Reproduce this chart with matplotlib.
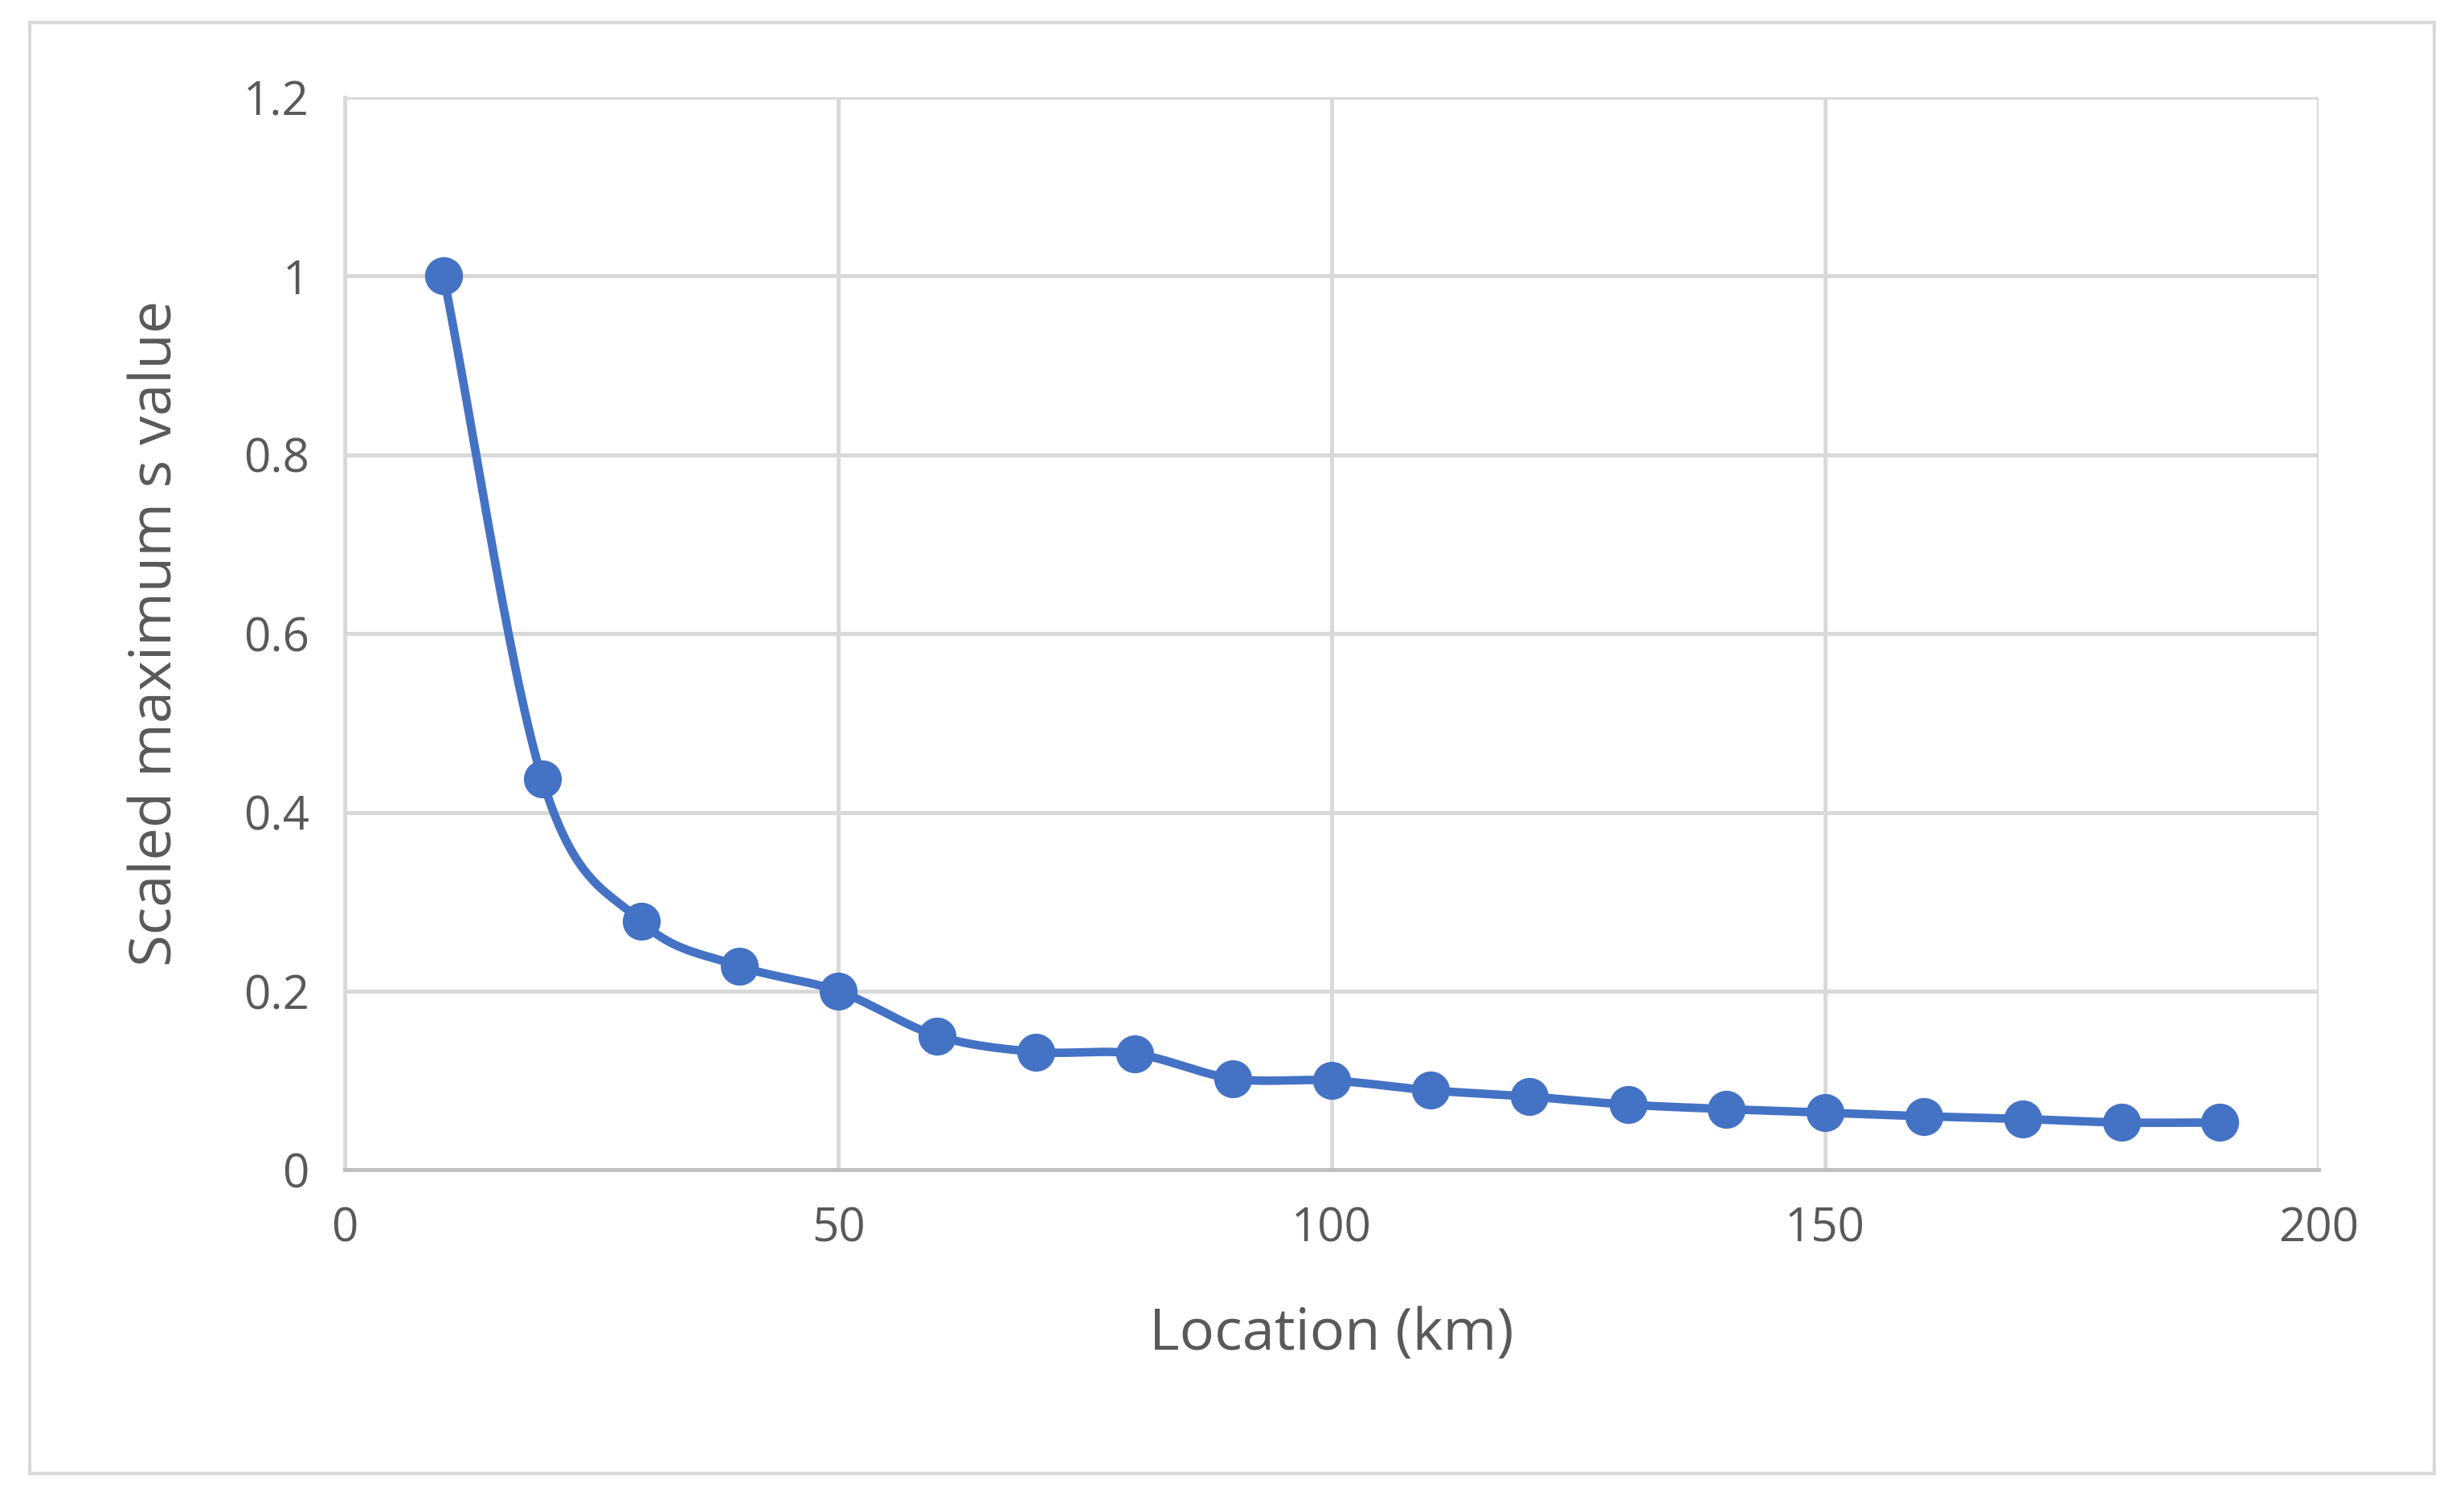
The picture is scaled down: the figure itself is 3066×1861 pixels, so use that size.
import numpy as np
import matplotlib.pyplot as plt
from matplotlib.patches import Rectangle

location_km = [10, 20, 30, 40, 50, 60, 70, 80, 90, 100,
               110, 120, 130, 140, 150, 160, 170, 180, 190]
scaled_s = [1.0, 0.437, 0.278, 0.228, 0.200, 0.150, 0.132, 0.130, 0.102, 0.100,
            0.089, 0.082, 0.073, 0.068, 0.064, 0.060, 0.057, 0.053, 0.053]
x_ticks = [0, 50, 100, 150, 200]
y_ticks = [0, 0.2, 0.4, 0.6, 0.8, 1, 1.2]
y_tick_labels = ['0', '0.2', '0.4', '0.6', '0.8', '1', '1.2']

BLUE = '#4472C4'
GRID = '#D9D9D9'
TEXT = '#595959'


def smooth_curve(xs, ys, n=30):
  # Catmull-Rom style smoothing, similar to a spreadsheet "smoothed line"
  p = np.column_stack([xs, ys]).astype(float)
  p = np.vstack([p[0] * 2 - p[1], p, p[-1] * 2 - p[-2]])
  out = []
  t = np.linspace(0, 1, n)[:, None]
  for i in range(1, len(p) - 2):
    p0, p1, p2, p3 = p[i - 1], p[i], p[i + 1], p[i + 2]
    seg = 0.5 * ((2 * p1) + (-p0 + p2) * t + (2 * p0 - 5 * p1 + 4 * p2 - p3) * t ** 2
                 + (-p0 + 3 * p1 - 3 * p2 + p3) * t ** 3)
    out.append(seg)
  out = np.vstack(out)
  return out[:, 0], out[:, 1]


plt.rcParams['font.family'] = ['Open Sans', 'DejaVu Sans']
fig = plt.figure(figsize=(15.33, 9.305), dpi=200)
fig.patches.append(Rectangle((0.012, 0.015), 0.976, 0.97, transform=fig.transFigure,
                             fill=False, edgecolor=GRID, linewidth=1.5))
ax = fig.add_axes([0.140, 0.218, 0.801, 0.717])

sx, sy = smooth_curve(location_km, scaled_s)
ax.plot(sx, sy, color=BLUE, linewidth=3.8, zorder=3)
ax.plot(location_km, scaled_s, 'o', color=BLUE, markersize=16, zorder=4)

ax.set_xlim(0, 200)
ax.set_ylim(0, 1.2)
ax.set_xticks(x_ticks)
ax.set_yticks(y_ticks)
ax.set_yticklabels(y_tick_labels)
ax.grid(True, color=GRID, linewidth=1.8)
ax.set_axisbelow(True)
for s in ['top', 'right']:
  ax.spines[s].set_visible(False)
ax.spines['left'].set_color(GRID)
ax.spines['left'].set_linewidth(1.8)
ax.spines['bottom'].set_color('#BFBFBF')
ax.spines['bottom'].set_linewidth(1.8)
ax.tick_params(length=0, labelsize=21, colors=TEXT, pad=16)
ax.set_xlabel('Location (km)', fontsize=26, color=TEXT, labelpad=24)
ax.set_ylabel('Scaled maximum s value', fontsize=26, color=TEXT, labelpad=26)

fig.savefig('out.png', dpi=200)
